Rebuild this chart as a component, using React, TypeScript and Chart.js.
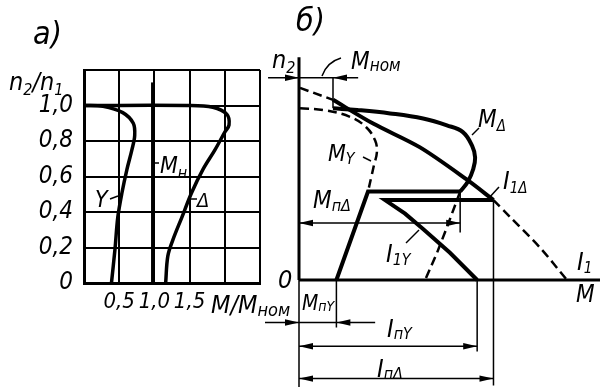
import React, { useEffect, useRef } from "react";
import { Chart, registerables } from "chart.js";
Chart.register(...registerables);

const FF = "'Liberation Sans Narrow', 'DejaVu Sans Condensed', 'Liberation Sans', sans-serif";

// ---------- Panel а): n2/n1 versus M/Mном ----------
const speedTicksLabelled = [0, 0.2, 0.4, 0.6, 0.8, 1.0];
const torqueTicksLabelled = [0.5, 1.0, 1.5];
const starSpeed = [0, 0.19, 0.37, 0.51, 0.64, 0.75, 0.83, 0.9, 0.96, 0.995, 1.0];
const starTorque = [0.39, 0.44, 0.48, 0.54, 0.61, 0.68, 0.72, 0.7, 0.55, 0.27, 0];
const deltaSpeed = [0, 0.15, 0.24, 0.37, 0.51, 0.64, 0.75, 0.85, 0.89, 0.95, 0.99, 1.0, 1.0];
const deltaTorque = [1.16, 1.19, 1.26, 1.39, 1.53, 1.69, 1.86, 2.0, 2.06, 2.03, 1.83, 1.46, 0];
const ratedTorque = 0.97;
const ratedLineTop = 1.13;

// ---------- Panel б): speed n2 versus torque M and current I1 (units: M/Mном, n2/n1) ----------
const mDeltaUpper: [number, number][] = [
  [1.0, 1.01], [1.71, 1.0], [2.68, 0.98], [3.65, 0.95], [4.35, 0.91], [4.82, 0.87],
  [5.09, 0.79], [5.18, 0.72], [5.12, 0.65], [4.97, 0.58], [4.74, 0.52],
];
const mStartPath: [number, number][] = [[4.74, 0.52], [2.03, 0.52], [1.1, 0]];
const mDeltaLower: [number, number][] = [[4.74, 0.52], [4.35, 0.31], [4.06, 0.16], [3.71, 0]];
const mStar: [number, number][] = [
  [0.03, 1.01], [0.71, 1.0], [1.5, 0.96], [1.97, 0.9], [2.24, 0.82], [2.29, 0.75],
  [2.21, 0.68], [2.12, 0.6], [2.03, 0.52],
];
const iDeltaTop: [number, number][] = [[0.03, 1.13], [1.0, 1.06]];
const iDeltaUsed: [number, number][] = [[1.0, 1.06], [2.18, 0.92], [3.56, 0.78], [4.94, 0.59], [5.72, 0.47]];
const iDeltaLow: [number, number][] = [[5.72, 0.47], [6.21, 0.37], [7.09, 0.19], [7.88, 0]];
const iStarPath: [number, number][] = [[5.72, 0.47], [2.53, 0.47], [3.12, 0.39], [3.65, 0.3], [4.44, 0.16], [5.24, 0]];
const mNom = 1.0;
const mStartY = 1.1;
const mSwitchDelta = 4.74;
const nSwitchM = 0.52;
const nSwitchI = 0.47;
const iStartY = 5.24;
const iStartDelta = 5.72;
const nSync = 1.01;

type Part = [string, number, number];
function rich(ctx: CanvasRenderingContext2D, x: number, y: number, parts: Part[]) {
  let cx = x;
  ctx.fillStyle = "#000";
  ctx.textAlign = "left";
  ctx.textBaseline = "alphabetic";
  for (const [t, s, dy] of parts) {
    ctx.font = `italic ${s}px ${FF}`;
    ctx.fillText(t, cx, y + dy);
    cx += ctx.measureText(t).width;
  }
}
function seg(ctx: CanvasRenderingContext2D, x1: number, y1: number, x2: number, y2: number, w = 1.5) {
  ctx.save();
  ctx.strokeStyle = "#000";
  ctx.lineWidth = w;
  ctx.beginPath();
  ctx.moveTo(x1, y1);
  ctx.lineTo(x2, y2);
  ctx.stroke();
  ctx.restore();
}
function arrow(ctx: CanvasRenderingContext2D, x: number, y: number, dir: number) {
  ctx.save();
  ctx.fillStyle = "#000";
  ctx.beginPath();
  ctx.moveTo(x, y);
  ctx.lineTo(x - dir * 14, y - 3.2);
  ctx.lineTo(x - dir * 14, y + 3.2);
  ctx.closePath();
  ctx.fill();
  ctx.restore();
}

const fmt = (v: number) => (v === 0 ? "0" : v.toFixed(1).replace(".", ","));
const pts = (a: [number, number][]) => a.map(([x, y]) => ({ x, y }));

export default function App() {
  const refA = useRef<HTMLCanvasElement>(null);
  const refB = useRef<HTMLCanvasElement>(null);

  useEffect(() => {
    const line = (data: any[], width: number, extra: any = {}) => ({
      data,
      showLine: true,
      pointRadius: 0,
      borderColor: "#000",
      backgroundColor: "#000",
      borderWidth: width,
      fill: false,
      clip: false,
      ...extra,
    });

    const labelsA = {
      id: "labelsA",
      afterDraw(chart: any) {
        const ctx = chart.ctx as CanvasRenderingContext2D;
        rich(ctx, 33, 44, [["а)", 32, 0]]);
        rich(ctx, 9, 90, [["n", 25, 0], ["2", 16, 5], ["/", 25, 0], ["n", 25, 0], ["1", 16, 5]]);
        rich(ctx, 95, 207, [["Y", 23, 0]]);
        seg(ctx, 110, 199, 118, 196, 1.5);
        rich(ctx, 197, 207, [["Δ", 20, 0]]);
        seg(ctx, 189, 199, 197, 199, 1.5);
        rich(ctx, 160, 173, [["M", 23, 0], ["н", 16, 5]]);
        seg(ctx, 153, 163, 159, 163, 1.5);
        rich(ctx, 211, 313, [["M/M", 25, 0], ["ном", 18, 3]]);
      },
    };

    const a = new Chart(refA.current!, {
      type: "scatter",
      data: {
        datasets: [
          line(starTorque.map((m, i) => ({ x: m, y: starSpeed[i] })), 3.5, { tension: 0.35 }),
          line(deltaTorque.map((m, i) => ({ x: m, y: deltaSpeed[i] })), 3.5, { tension: 0.35 }),
          line([{ x: ratedTorque, y: 0 }, { x: ratedTorque, y: ratedLineTop }], 2.5),
        ],
      },
      options: {
        responsive: false,
        animation: false,
        events: [],
        layout: { padding: { left: 0, top: 70, right: 340, bottom: 0 } },
        plugins: { legend: { display: false }, tooltip: { enabled: false } },
        scales: {
          x: {
            type: "linear",
            min: 0,
            max: 2.5,
            afterFit: (s: any) => { s.height = 105; },
            ticks: {
              stepSize: 0.5,
              autoSkip: false,
              maxRotation: 0,
              padding: 6,
              color: "#000",
              font: { family: FF, size: 22, style: "italic" },
              callback: (v: any) =>
                torqueTicksLabelled.some((t) => Math.abs(t - Number(v)) < 1e-6) ? fmt(Number(v)) : "",
            },
            grid: { color: "#000", lineWidth: 2, drawTicks: false },
            border: { color: "#000", width: 3 },
          },
          y: {
            type: "linear",
            min: 0,
            max: 1.2,
            afterFit: (s: any) => { s.width = 84; },
            ticks: {
              stepSize: 0.2,
              autoSkip: false,
              padding: 11,
              color: "#000",
              font: { family: FF, size: 24, style: "italic" },
              callback: (v: any) =>
                speedTicksLabelled.some((t) => Math.abs(t - Number(v)) < 1e-6) ? fmt(Number(v)) : "",
            },
            grid: { color: "#000", lineWidth: 2, drawTicks: false },
            border: { color: "#000", width: 3 },
          },
        },
      },
      plugins: [labelsA],
    } as any);

    const labelsB = {
      id: "labelsB",
      afterDraw(chart: any) {
        const ctx = chart.ctx as CanvasRenderingContext2D;
        const X = (v: number) => chart.scales.x.getPixelForValue(v);
        const Y = (v: number) => chart.scales.y.getPixelForValue(v);
        // dimension arrowheads
        const yNomDim = Y(1.19);
        arrow(ctx, X(0), yNomDim, 1);
        arrow(ctx, X(mNom), yNomDim, -1);
        const yMsY = Y(-0.25);
        arrow(ctx, X(0), yMsY, 1);
        arrow(ctx, X(mStartY), yMsY, -1);
        const yIsY = Y(-0.39);
        arrow(ctx, X(0), yIsY, -1);
        arrow(ctx, X(iStartY), yIsY, 1);
        const yIsD = Y(-0.58);
        arrow(ctx, X(0), yIsD, -1);
        arrow(ctx, X(iStartDelta), yIsD, 1);
        const yMsw = Y(0.335);
        arrow(ctx, X(0), yMsw, -1);
        arrow(ctx, X(mSwitchDelta), yMsw, 1);

        // leaders
        ctx.save();
        ctx.strokeStyle = "#000";
        ctx.lineWidth = 1.5;
        ctx.beginPath();
        ctx.moveTo(322, 76);
        ctx.quadraticCurveTo(327, 62, 341, 58);
        ctx.stroke();
        ctx.restore();
        seg(ctx, 472, 135, 479, 128);
        seg(ctx, 363, 157, 371, 161);
        seg(ctx, 488, 199, 499, 187);
        seg(ctx, 406, 243, 419, 230);

        // texts
        rich(ctx, 296, 31, [["б)", 32, 0]]);
        rich(ctx, 272, 68, [["n", 25, 0], ["2", 16, 5]]);
        rich(ctx, 351, 69, [["M", 24, 0], ["ном", 17, 2]]);
        rich(ctx, 478, 127, [["M", 24, 0], ["Δ", 15, 4]]);
        rich(ctx, 328, 161, [["M", 23, 0], ["Y", 16, 3]]);
        rich(ctx, 503, 189, [["I", 25, 0], ["1Δ", 15, 4]]);
        rich(ctx, 313, 208, [["M", 24, 0], ["пΔ", 16, 3]]);
        rich(ctx, 386, 262, [["I", 25, 0], ["1Y", 16, 3]]);
        rich(ctx, 577, 270, [["I", 25, 0], ["1", 15, 3]]);
        rich(ctx, 576, 302, [["M", 24, 0]]);
        rich(ctx, 278, 288, [["0", 25, 0]]);
        rich(ctx, 302, 310, [["M", 21, 0], ["пY", 14, 1]]);
        rich(ctx, 387, 337, [["I", 25, 0], ["пY", 16, 2]]);
        rich(ctx, 377, 377, [["I", 25, 0], ["пΔ", 16, 2]]);
      },
    };

    const yTop = 1.31;
    const yBottom = -0.63;
    const xEnd = 8.853;
    const dash = { borderDash: [9, 5] };
    const thin = (p: [number, number][]) => line(pts(p), 1.5);

    const b = new Chart(refB.current!, {
      type: "scatter",
      data: {
        datasets: [
          line(pts([[0, yTop], [0, 0]]), 3),
          line(pts([[0, 0], [xEnd, 0]]), 3),
          thin([[0, 0], [0, yBottom]]),
          thin([[mNom, 1.19], [mNom, nSync]]),
          thin([[-0.91, 1.19], [1.74, 1.19]]),
          thin([[mStartY, 0], [mStartY, -0.28]]),
          thin([[-1.0, -0.25], [2.24, -0.25]]),
          thin([[iStartY, 0], [iStartY, -0.42]]),
          thin([[0, -0.39], [iStartY, -0.39]]),
          thin([[iStartDelta, nSwitchI], [iStartDelta, -0.62]]),
          thin([[0, -0.58], [iStartDelta, -0.58]]),
          thin([[mSwitchDelta, nSwitchM], [mSwitchDelta, 0.28]]),
          thin([[0, 0.335], [mSwitchDelta, 0.335]]),
          line(pts(mDeltaUpper), 4, { tension: 0.4 }),
          line(pts(mStartPath), 4),
          line(pts(mDeltaLower), 2.5, dash),
          line(pts(mStar), 2.5, { ...dash, tension: 0.4 }),
          line(pts(iDeltaTop), 2.5, dash),
          line(pts(iDeltaUsed), 4, { tension: 0.3 }),
          line(pts(iDeltaLow), 2.5, { ...dash, tension: 0.3 }),
          line(pts(iStarPath), 4),
        ],
      },
      options: {
        responsive: false,
        animation: false,
        events: [],
        layout: { padding: { left: 299, top: 40, right: 0, bottom: 0 } },
        plugins: { legend: { display: false }, tooltip: { enabled: false } },
        scales: {
          x: { type: "linear", display: false, min: 0, max: xEnd },
          y: { type: "linear", display: false, min: -0.6353, max: 1.4118 },
        },
      },
      plugins: [labelsB],
    } as any);

    return () => {
      a.destroy();
      b.destroy();
    };
  }, []);

  return (
    <div style={{ position: "absolute", left: 0, top: 0, width: 600, height: 388, background: "#fff" }}>
      <canvas ref={refA} width={600} height={388} style={{ position: "absolute", left: 0, top: 0 }} />
      <canvas ref={refB} width={600} height={388} style={{ position: "absolute", left: 0, top: 0 }} />
    </div>
  );
}
